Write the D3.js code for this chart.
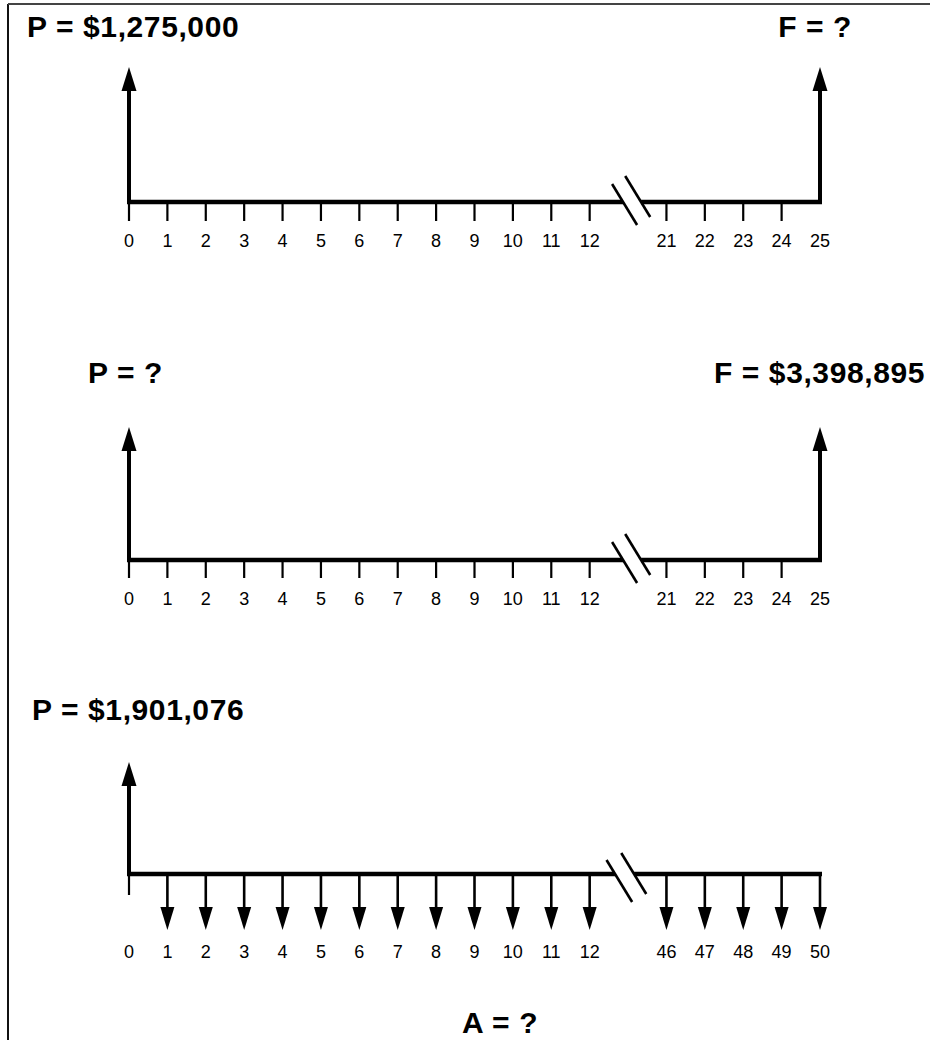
<!DOCTYPE html>
<html><head><meta charset="utf-8">
<script src="https://cdn.jsdelivr.net/npm/d3@7"></script>
<style>html,body{margin:0;padding:0;background:#fff;} svg{display:block;}</style>
</head><body>
<script>
// ---------- DATA ----------
const periodsAB = ["0","1","2","3","4","5","6","7","8","9","10","11","12","21","22","23","24","25"];
const periodsC  = ["0","1","2","3","4","5","6","7","8","9","10","11","12","46","47","48","49","50"];
const tickPeriodsAB = ["0","1","2","3","4","5","6","7","8","9","10","11","12","21","22","23","24"];
const tickPeriodsC  = ["0"];
const upFlows1 = ["0","25"];
const upFlows2 = ["0","25"];
const upFlows3 = ["0"];
const downFlows3 = ["1","2","3","4","5","6","7","8","9","10","11","12","46","47","48","49","50"];
const labels1 = ["P = $1,275,000", "F = ?"];
const labels2 = ["P = ?", "F = $3,398,895"];
const labels3 = ["P = $1,901,076", "A = ?"];

// ---------- LAYOUT ----------
const W = 930, H = 1047;
const svg = d3.select("body").append("svg").attr("width", W).attr("height", H);
const FONT = "'Liberation Sans', Arial, Helvetica, sans-serif";

// border
svg.append("line").attr("x1", 8).attr("x2", 8).attr("y1", 4).attr("y2", 1040)
  .attr("stroke", "#111").attr("stroke-width", 2);
svg.append("line").attr("x1", 8).attr("x2", 930).attr("y1", 4).attr("y2", 4)
  .attr("stroke", "#444").attr("stroke-width", 2);

function makeScale(periods) {
  const dom = [...periods.slice(0, 13), "gap", ...periods.slice(13)];
  return d3.scalePoint().domain(dom).range([129, 820]);
}

function drawRow(cfg) {
  const x = makeScale(cfg.periods);
  const g = svg.append("g");
  const by = cfg.baseY;
  const gx = x("gap");
  const slope = 25 / 41;
  // baseline segments
  const s1 = gx + cfg.slashes[0].cx, s2 = gx + cfg.slashes[1].cx;
  g.append("line").attr("x1", x(cfg.periods[0]) - 2).attr("x2", s1)
    .attr("y1", by).attr("y2", by).attr("stroke", "#000").attr("stroke-width", 4.5);
  g.append("line").attr("x1", s2).attr("x2", x(cfg.periods[cfg.periods.length - 1]) + 2)
    .attr("y1", by).attr("y2", by).attr("stroke", "#000").attr("stroke-width", 4.5);
  // slashes
  cfg.slashes.forEach(s => {
    const cx = gx + s.cx;
    g.append("line")
      .attr("x1", cx + s.top * slope).attr("y1", by + s.top)
      .attr("x2", cx + s.bot * slope).attr("y2", by + s.bot)
      .attr("stroke", "#000").attr("stroke-width", 2.6);
  });
  // ticks
  g.selectAll("line.tick").data(cfg.ticks).join("line").attr("class", "tick")
    .attr("x1", d => x(d)).attr("x2", d => x(d))
    .attr("y1", by).attr("y2", by + cfg.tickLen)
    .attr("stroke", "#000").attr("stroke-width", 2.2);
  // tick labels
  g.selectAll("text.tl").data(cfg.periods).join("text").attr("class", "tl")
    .attr("x", d => x(d)).attr("y", by + cfg.labelOff)
    .attr("text-anchor", "middle").attr("font-family", FONT).attr("font-size", 18)
    .attr("fill", "#000").text(d => d);
  // up arrows
  cfg.up.forEach(p => {
    const px = x(p);
    g.append("line").attr("x1", px).attr("x2", px).attr("y1", by + 2).attr("y2", cfg.tipY + 18)
      .attr("stroke", "#000").attr("stroke-width", 4);
    g.append("path").attr("d", `M${px},${cfg.tipY} L${px - 7.5},${cfg.tipY + 24} L${px + 7.5},${cfg.tipY + 24} Z`)
      .attr("fill", "#000");
  });
  // down arrows
  (cfg.down || []).forEach(p => {
    const px = x(p);
    g.append("line").attr("x1", px).attr("x2", px).attr("y1", by).attr("y2", cfg.downTip - 18)
      .attr("stroke", "#000").attr("stroke-width", 2.6);
    g.append("path").attr("d", `M${px},${cfg.downTip} L${px - 7},${cfg.downTip - 23} L${px + 7},${cfg.downTip - 23} Z`)
      .attr("fill", "#000");
  });
  // big labels
  cfg.labels.forEach((t, i) => {
    const L = cfg.labelPos[i];
    svg.append("text").attr("x", L.x).attr("y", L.y).attr("text-anchor", L.anchor)
      .attr("font-family", FONT).attr("font-weight", "bold").attr("font-size", 30)
      .attr("letter-spacing", 0.6).attr("fill", "#000").text(t);
  });
}

drawRow({
  periods: periodsAB, ticks: tickPeriodsAB, baseY: 202, tipY: 67, tickLen: 19, labelOff: 45,
  up: upFlows1,
  slashes: [{cx: -5, top: -18, bot: 23}, {cx: 13, top: -26, bot: 15}],
  labels: labels1,
  labelPos: [{x: 27, y: 37, anchor: "start"}, {x: 852, y: 37, anchor: "end"}]
});
drawRow({
  periods: periodsAB, ticks: tickPeriodsAB, baseY: 560, tipY: 427, tickLen: 18, labelOff: 45,
  up: upFlows2,
  slashes: [{cx: -5, top: -18, bot: 23}, {cx: 13, top: -26, bot: 15}],
  labels: labels2,
  labelPos: [{x: 88, y: 383, anchor: "start"}, {x: 925, y: 383, anchor: "end"}]
});
drawRow({
  periods: periodsC, ticks: tickPeriodsC, baseY: 874, tipY: 762, tickLen: 21, labelOff: 84,
  up: upFlows3, down: downFlows3, downTip: 930,
  slashes: [{cx: -13, top: -14, bot: 28}, {cx: 6, top: -21, bot: 20}],
  labels: labels3,
  labelPos: [{x: 32, y: 720, anchor: "start"}, {x: 462, y: 1033, anchor: "start"}]
});
</script>
</body></html>
